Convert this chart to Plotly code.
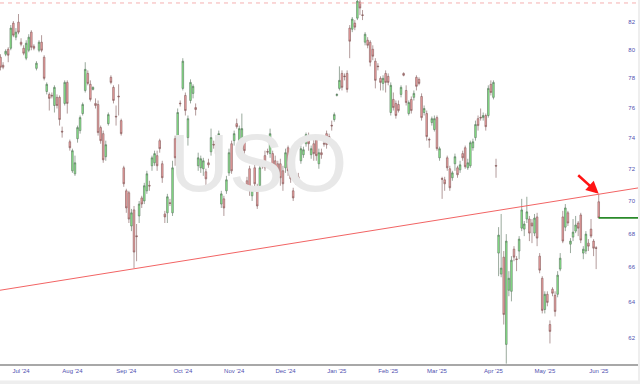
import numpy as np
import plotly.graph_objects as go

# ---------------- data (daily USO candles) ----------------
opens = [
 79.47, 78.91, 79.68, 80.03, 80.10, 81.90, 80.89, 81.97, 80.53, 80.10,
 79.40, 79.96, 81.25, 80.24, 78.69, 79.96, 80.53, 79.47, 77.10, 76.90,
 76.84, 76.15, 76.70, 76.70, 74.44, 76.29, 77.72, 73.75, 71.88, 71.69,
 73.95, 74.48, 75.61, 77.17, 78.34, 77.59, 77.24, 76.29, 76.22, 74.68,
 74.28, 72.78, 74.94, 78.07, 77.38, 75.43, 76.79, 75.14, 72.07, 70.62,
 70.50, 68.46, 69.44, 67.87, 69.07, 70.18, 69.99, 70.62, 70.96, 72.20,
 72.39, 72.85, 73.82, 72.33, 69.19, 69.26, 69.88, 69.26, 73.95, 73.69,
 76.31, 77.31, 76.83, 74.02, 76.49, 76.97, 76.01, 72.20, 72.07, 72.01,
 71.82, 72.39, 73.10, 73.58, 73.82, 73.69, 69.80, 70.12, 70.62, 71.75,
 73.62, 73.82, 74.94, 73.17, 73.30, 73.82, 71.25, 72.01, 70.31, 72.07,
 70.87, 70.94, 72.39, 72.85, 73.12, 72.98, 72.98, 72.52, 72.33, 72.33,
 71.88, 72.07, 73.36, 71.88, 70.62, 71.21, 71.50, 72.52, 72.91, 73.62,
 74.15, 72.91, 73.62, 73.89, 72.33, 73.04, 73.64, 74.28, 74.09, 74.83,
 75.21, 76.83, 77.31, 78.34, 78.16, 78.34, 81.54, 81.46, 81.90, 82.26,
 83.44, 82.50, 80.53, 80.67, 80.53, 80.03, 79.19, 78.85, 78.00, 77.65,
 78.34, 78.14, 75.68, 76.56, 76.29, 76.22, 76.90, 78.34, 77.17, 75.61,
 76.56, 76.70, 78.07, 77.93, 76.76, 75.68, 75.61, 73.91, 75.01, 74.55,
 75.34, 72.71, 71.39, 71.31, 72.71, 72.01, 71.44, 72.33, 72.07, 71.94,
 72.98, 73.36, 72.07, 72.20, 73.36, 74.02, 75.27, 75.36, 75.34, 75.48,
 75.48, 77.59, 76.70, 72.22, 66.84, 65.61, 66.60, 61.66, 64.68, 64.62,
 67.07, 66.50, 66.96, 68.33, 68.27, 68.88, 68.88, 68.64, 68.03, 69.01,
 66.66, 65.37, 63.59, 64.45, 62.75, 64.74, 64.39, 64.45, 65.90, 69.01,
 68.39, 69.26, 67.37, 67.79, 68.15, 68.64, 69.13, 66.84, 66.96, 67.43,
 68.27, 67.55, 67.16, 69.94,
]
highs = [
 79.68, 79.12, 80.03, 80.17, 81.76, 82.05, 81.54, 82.56, 80.81, 80.31,
 80.67, 81.10, 81.39, 80.38, 79.19, 80.67, 81.03, 79.61, 77.72, 77.03,
 77.03, 77.52, 76.90, 76.83, 74.74, 77.86, 77.86, 73.89, 73.30, 72.85,
 74.81, 75.48, 76.35, 79.12, 78.55, 77.86, 77.45, 76.63, 76.49, 74.81,
 74.48, 73.82, 75.68, 78.21, 77.52, 76.15, 77.59, 75.27, 72.20, 70.75,
 70.62, 69.50, 69.68, 68.58, 69.99, 70.31, 71.12, 71.88, 71.25, 72.85,
 73.17, 73.17, 73.95, 72.52, 69.38, 70.43, 70.12, 72.52, 74.15, 75.95,
 76.49, 79.40, 77.03, 75.48, 77.93, 77.59, 76.29, 73.04, 72.85, 72.71,
 72.01, 72.65, 74.61, 73.82, 74.15, 74.48, 70.62, 70.31, 71.56, 73.30,
 73.82, 74.48, 75.27, 74.81, 75.61, 74.02, 71.50, 72.20, 70.94, 72.33,
 71.06, 72.52, 72.52, 73.17, 73.30, 74.61, 73.17, 72.85, 72.52, 72.65,
 72.20, 73.30, 73.50, 72.20, 70.81, 71.37, 71.75, 73.50, 73.43, 74.35,
 74.35, 73.50, 74.09, 74.15, 73.30, 73.30, 73.82, 74.48, 74.28, 75.14,
 75.68, 76.97, 78.83, 78.55, 78.34, 78.55, 81.76, 82.34, 82.12, 83.59,
 83.59, 82.85, 81.25, 80.89, 80.67, 80.31, 79.40, 79.05, 78.14, 78.21,
 78.55, 78.34, 77.72, 77.03, 76.49, 76.49, 77.52, 78.41, 77.52, 76.49,
 76.76, 77.17, 78.21, 78.07, 76.97, 76.15, 75.81, 74.02, 75.41, 75.48,
 75.48, 73.43, 71.50, 71.50, 72.85, 72.20, 71.88, 72.98, 72.20, 72.52,
 73.17, 73.50, 72.65, 73.82, 73.95, 75.14, 75.48, 75.95, 75.68, 75.61,
 77.52, 77.86, 77.86, 72.65, 68.39, 69.19, 66.96, 67.97, 65.78, 66.66,
 67.25, 66.66, 67.85, 70.12, 68.76, 70.25, 69.07, 68.88, 69.19, 69.26,
 66.84, 65.49, 64.62, 64.62, 62.98, 64.85, 64.62, 65.78, 66.84, 69.38,
 69.80, 69.38, 67.73, 68.88, 69.07, 68.76, 69.26, 67.25, 68.15, 67.67,
 68.88, 67.67, 67.25, 70.43,
]
lows = [
 78.55, 78.63, 79.54, 79.12, 79.96, 80.89, 80.67, 81.10, 80.24, 79.61,
 79.26, 79.82, 79.96, 79.96, 78.55, 79.82, 79.82, 77.86, 76.90, 75.81,
 76.63, 75.68, 75.95, 74.81, 74.02, 76.15, 75.61, 73.17, 71.75, 71.56,
 73.69, 74.28, 75.48, 77.03, 77.52, 76.42, 77.17, 75.95, 74.15, 73.62,
 72.39, 72.52, 74.81, 77.59, 76.29, 74.81, 75.48, 74.15, 70.87, 69.26,
 68.64, 68.15, 65.96, 66.36, 68.64, 69.56, 69.80, 70.43, 70.62, 71.88,
 72.20, 71.88, 73.04, 71.12, 68.64, 68.64, 69.68, 69.07, 72.20, 73.50,
 76.08, 77.17, 75.48, 73.50, 76.29, 76.63, 75.48, 71.88, 71.75, 71.56,
 70.62, 72.07, 72.85, 73.30, 72.52, 73.50, 69.56, 69.07, 70.43, 71.56,
 71.69, 73.50, 74.61, 72.85, 73.17, 72.52, 70.62, 70.31, 69.99, 70.62,
 69.50, 70.62, 72.01, 71.88, 72.91, 72.71, 71.75, 70.94, 71.25, 70.94,
 70.62, 71.75, 71.56, 71.12, 69.99, 71.00, 71.12, 72.33, 72.71, 73.43,
 73.17, 72.65, 72.52, 72.52, 72.01, 72.65, 73.43, 73.30, 73.62, 74.48,
 75.07, 76.76, 77.17, 77.17, 77.86, 77.03, 79.40, 81.25, 81.39, 82.12,
 82.48, 82.12, 80.31, 80.10, 78.83, 79.26, 77.31, 78.55, 77.17, 77.17,
 77.03, 77.52, 75.48, 75.81, 75.27, 75.68, 76.70, 78.14, 76.15, 75.48,
 75.61, 76.49, 77.17, 77.52, 75.14, 75.48, 73.82, 73.36, 74.81, 74.42,
 73.17, 72.52, 70.12, 70.62, 71.88, 70.62, 71.25, 71.88, 71.44, 71.75,
 72.52, 72.01, 71.94, 72.07, 73.17, 73.82, 74.48, 75.14, 75.14, 74.48,
 75.34, 76.83, 76.56, 71.44, 65.49, 65.43, 62.75, 60.62, 64.34, 64.05,
 66.36, 65.78, 66.48, 68.15, 67.85, 68.64, 67.55, 67.43, 67.85, 67.25,
 65.66, 63.37, 63.37, 63.77, 61.71, 64.34, 63.20, 64.28, 65.78, 67.43,
 68.15, 68.46, 66.84, 67.55, 68.03, 67.85, 67.43, 66.48, 66.78, 66.96,
 67.73, 66.66, 65.90, 68.95,
]
closes = [
 78.77, 78.77, 79.89, 79.61, 81.54, 81.03, 81.25, 81.25, 80.38, 79.75,
 80.46, 80.89, 80.17, 80.10, 79.05, 80.53, 79.96, 78.00, 77.59, 76.63,
 76.80, 77.38, 76.15, 75.21, 74.39, 77.72, 76.29, 73.36, 73.17, 72.39,
 74.68, 75.34, 76.22, 78.62, 77.65, 76.56, 77.38, 76.15, 74.35, 73.82,
 72.58, 73.56, 75.54, 77.72, 76.49, 75.39, 76.74, 74.28, 71.06, 69.56,
 68.88, 69.26, 66.90, 67.82, 69.80, 69.80, 70.94, 71.69, 70.92, 72.71,
 72.98, 72.20, 73.30, 71.44, 69.01, 70.25, 69.84, 72.07, 72.71, 75.68,
 76.27, 79.19, 75.81, 75.27, 77.72, 77.45, 75.88, 72.71, 72.65, 72.52,
 71.37, 72.26, 74.02, 73.54, 72.98, 74.28, 70.43, 69.56, 71.31, 73.04,
 71.88, 74.28, 74.74, 74.61, 74.61, 73.17, 70.87, 70.75, 70.75, 71.06,
 69.68, 72.07, 72.20, 72.07, 73.08, 74.28, 72.01, 71.56, 71.56, 71.44,
 71.06, 73.04, 71.88, 71.37, 70.18, 71.17, 71.37, 73.30, 73.23, 74.22,
 73.62, 73.30, 72.98, 72.85, 73.04, 72.91, 73.60, 73.56, 73.82, 74.79,
 75.54, 76.90, 77.86, 77.38, 78.12, 77.24, 80.60, 82.19, 81.61, 83.51,
 83.00, 82.46, 81.10, 80.31, 79.12, 79.54, 77.86, 78.81, 77.72, 78.00,
 77.72, 77.72, 77.52, 76.01, 75.48, 75.81, 77.38, 78.21, 76.35, 76.35,
 75.81, 76.97, 77.45, 77.65, 75.34, 75.95, 74.09, 73.87, 75.27, 75.27,
 73.30, 73.30, 71.35, 71.06, 72.07, 70.81, 71.75, 72.78, 71.63, 72.26,
 72.71, 72.14, 72.39, 73.69, 73.75, 74.88, 74.81, 75.32, 75.48, 74.74,
 77.31, 77.03, 77.72, 72.18, 67.91, 65.96, 63.31, 67.55, 65.37, 66.42,
 66.60, 66.46, 67.67, 69.44, 68.58, 69.32, 68.03, 68.46, 68.94, 67.73,
 65.84, 63.54, 64.45, 63.99, 62.37, 64.51, 63.48, 65.55, 66.54, 67.55,
 69.56, 68.64, 67.55, 68.09, 68.52, 68.33, 67.61, 67.07, 67.97, 67.25,
 67.85, 67.13, 67.12, 68.95,
]

month_tick_idx = [8, 28, 49, 71, 91, 111, 131, 151, 170, 192, 212, 233]
month_labels = ["Jul '24", "Aug '24", "Sep '24", "Oct '24", "Nov '24", "Dec '24",
                "Jan '25", "Feb '25", "Mar '25", "Apr '25", "May '25", "Jun '25"]
price_ticks = [62, 64, 66, 68, 70, 72, 74, 76, 78, 80, 82]

trend_x = [-0.2, 248.3]          # support trend line endpoints (candle index)
trend_y = [64.68, 70.80]         # prices at those endpoints
high_line_price = 83.37          # dashed line at the top
last_price = closes[-1]          # last close, green line
arrow_price = highs[-1]          # arrow points at the last candle's high

x_range = [-0.2, 248.3]
y_range = [60.60, 83.59]

idx = list(range(len(opens)))
last_idx = idx[-1]

fig = go.Figure()

# watermark (behind candles)
fig.add_trace(go.Scatter(
    x=[100.5], y=[71.9], mode="text", text=["USO"],
    textfont=dict(size=82, color="#e8e8e8", family="Liberation Sans"),
    hoverinfo="skip", showlegend=False))

fig.add_trace(go.Candlestick(
    x=idx, open=opens, high=highs, low=lows, close=closes,
    increasing=dict(line=dict(color="#55705a", width=0.6), fillcolor="#8cf08c"),
    decreasing=dict(line=dict(color="#805858", width=0.6), fillcolor="#f2a4a4"),
    whiskerwidth=0, showlegend=False))

# support trend line
fig.add_trace(go.Scatter(x=trend_x, y=trend_y, mode="lines",
                         line=dict(color="#f26464", width=1),
                         hoverinfo="skip", showlegend=False))
# top dashed line
fig.add_trace(go.Scatter(x=x_range, y=[high_line_price, high_line_price], mode="lines",
                         line=dict(color="#f5b0b0", width=1, dash="4px,4px"),
                         hoverinfo="skip", showlegend=False))
# last price line
fig.add_trace(go.Scatter(x=[last_idx, x_range[1]], y=[last_price, last_price], mode="lines",
                         line=dict(color="#2a8a2a", width=1.6),
                         hoverinfo="skip", showlegend=False))

fig.add_annotation(x=last_idx, y=np.log10(arrow_price), xref="x", yref="y",
                   text="", showarrow=True, ax=-22, ay=-20,
                   arrowhead=2, arrowsize=1, arrowwidth=2.5, arrowcolor="#ff1414",
                   standoff=0)

fig.update_layout(
    width=640, height=384,
    margin=dict(l=0, r=2, t=0, b=20),
    paper_bgcolor="white", plot_bgcolor="white",
    showlegend=False,
    boxgap=0.1,
    xaxis=dict(range=x_range, tickvals=month_tick_idx, ticktext=month_labels,
               tickfont=dict(size=6, color="#5050b0", family="Liberation Sans"),
               showgrid=False, zeroline=False, showline=True,
               linecolor="#a8a8a8", linewidth=1.5, ticks="",
               rangeslider=dict(visible=False), fixedrange=True),
    yaxis=dict(type="log", range=[np.log10(y_range[0]), np.log10(y_range[1])],
               side="right", tickvals=price_ticks,
               ticktext=[str(v) for v in price_ticks],
               ticklabelposition="inside",
               tickfont=dict(size=6, color="#5050b0", family="Liberation Sans"),
               showgrid=False, zeroline=False, showline=False, ticks="",
               fixedrange=True),
    shapes=[
        dict(type="rect", xref="paper", yref="paper", x0=-0.01, x1=1.01,
             y0=-16.5 / 364, y1=-21 / 364, fillcolor="#eeeeee", line=dict(width=0)),
        dict(type="rect", xref="paper", yref="paper", x0=1.0, x1=1.01,
             y0=-21 / 364, y1=1.01, fillcolor="#eeeeee", line=dict(width=0)),
    ],
)

fig.write_html("out.html")
